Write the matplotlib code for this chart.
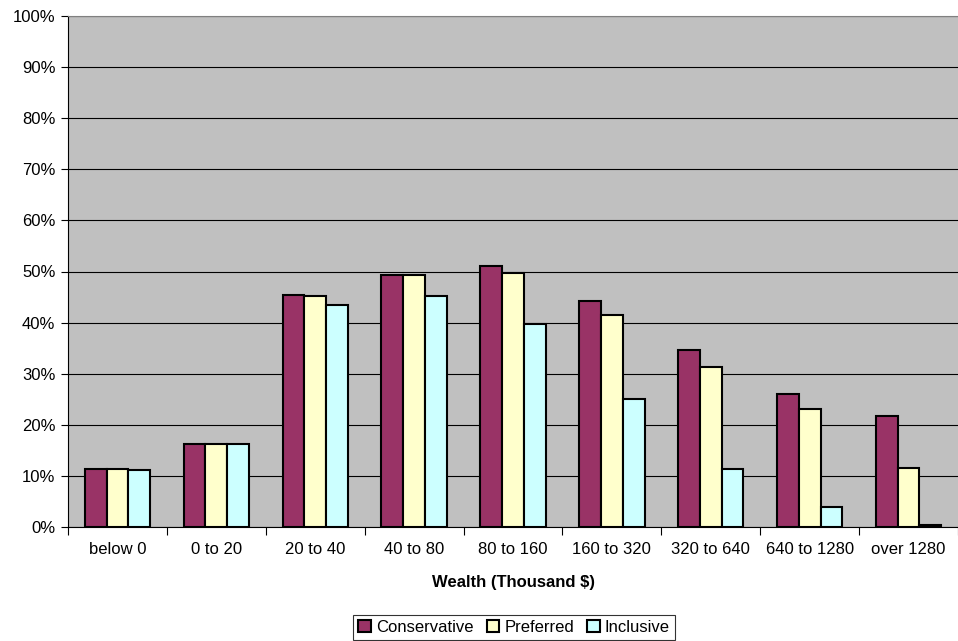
import matplotlib
matplotlib.use("Agg")
import matplotlib.pyplot as plt
import numpy as np

plt.rcParams['font.family'] = ['Liberation Sans', 'DejaVu Sans']

categories = ["below 0", "0 to 20", "20 to 40", "40 to 80", "80 to 160",
              "160 to 320", "320 to 640", "640 to 1280", "over 1280"]
conservative = [11.4, 16.3, 45.4, 49.3, 51.1, 44.2, 34.6, 26.0, 21.7]
preferred = [11.4, 16.3, 45.3, 49.3, 49.7, 41.5, 31.4, 23.0, 11.6]
inclusive = [11.2, 16.2, 43.4, 45.2, 39.8, 25.1, 11.3, 4.0, 0.4]
series_names = ["Conservative", "Preferred", "Inclusive"]
colors = ["#993366", "#FFFFCC", "#CCFFFF"]

fig = plt.figure(figsize=(9.58, 6.41), dpi=100)
ax = fig.add_axes([68/958, 1-527/641, 1-68/958, (527-16)/641])
ax.set_facecolor("#C0C0C0")

x = np.arange(len(categories))
w = 0.22
for i, (vals, name, c) in enumerate(zip([conservative, preferred, inclusive], series_names, colors)):
    ax.bar(x + (i-1)*w, vals, width=w, color=c, edgecolor="black", linewidth=1.5, label=name, zorder=3)

ax.set_xlim(-0.5, len(categories)-0.5)
ax.set_ylim(0, 100)
ax.set_yticks(np.arange(0, 101, 10))
ax.set_yticklabels([f"{v}%" for v in range(0, 101, 10)], fontsize=12)
ax.yaxis.grid(True, color="black", linewidth=0.8, zorder=1)
ax.set_axisbelow(True)

ax.set_xticks(x)
ax.set_xticklabels(categories, fontsize=12)
ax.tick_params(axis='x', length=0, pad=11)
ax.set_xticks(np.arange(-0.5, len(categories), 1), minor=True)
ax.tick_params(axis='x', which='minor', length=6, color='black', width=0.8)
ax.tick_params(axis='y', length=5, width=0.8, pad=4)

ax.spines['right'].set_visible(False)
ax.spines['top'].set_color('#808080')
ax.spines['left'].set_linewidth(0.8)
ax.spines['bottom'].set_linewidth(0.8)

ax.set_xlabel("Wealth (Thousand $)", fontsize=12, fontweight='bold', labelpad=13)

leg = fig.legend(loc='center', bbox_to_anchor=(514/958, 1-627/641), ncol=3,
                 fontsize=12, frameon=True, fancybox=False, edgecolor='black',
                 handlelength=0.75, handleheight=0.75, handletextpad=0.3,
                 columnspacing=0.8, borderpad=0.3, borderaxespad=0)
leg.get_frame().set_linewidth(0.8)

fig.savefig("out.png", dpi=100)
